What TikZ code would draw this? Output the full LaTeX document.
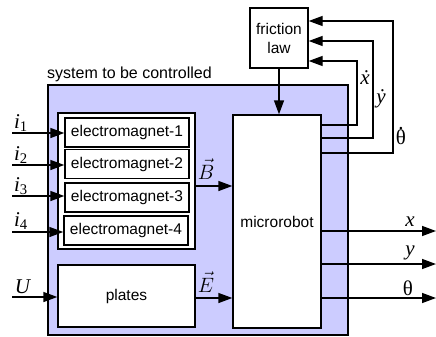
\documentclass[tikz,border=0pt]{standalone}
\usepackage{fontspec}
\setmainfont{Liberation Sans}
\newfontfamily\serifletters{Liberation Serif}
\usetikzlibrary{arrows.meta}
\definecolor{sysblue}{RGB}{204,204,255}
\newcommand{\dotover}[1]{\ooalign{#1\cr\hidewidth\raisebox{0.72em}{.}\hidewidth\cr}}
\tikzset{
	block/.style = {draw, line width=1.4pt, fill=white, inner sep=0pt, align=center, font=\fontsize{15.5}{19}\selectfont},
	sig/.style = {line width=1.4pt, -{Triangle[length=14pt, width=10pt]}},
	lbl/.style = {inner sep=0pt, font=\fontsize{21}{24}\selectfont\serifletters}
}

\begin{document}
\begin{tikzpicture}[x=1pt, y=-1pt]
		\useasboundingbox (0,0) rectangle (436,337);
		\node[block, fill=sysblue, minimum width=300pt, minimum height=250pt] (system) at (198,210) {};
		\node[anchor=south west, inner sep=0pt, font=\fontsize{16}{19}\selectfont] (systitle) at (47,82) {system to be controlled};
		\node[block, minimum width=137pt, minimum height=136pt] (magnets) at (126.5,181) {};
		\node[block, minimum width=124pt, minimum height=29pt] (em1) at (127,132.5) {electromagnet-1};
		\node[block, minimum width=124pt, minimum height=29pt] (em2) at (127,164) {electromagnet-2};
		\node[block, minimum width=124pt, minimum height=29pt] (em3) at (127,197.5) {electromagnet-3};
		\node[block, minimum width=124pt, minimum height=29pt] (em4) at (126,230.5) {electromagnet-4};
		\node[block, minimum width=137pt, minimum height=62pt] (plates) at (126.5,296) {plates};
		\node[block, minimum width=88pt, minimum height=213pt] (robot) at (277,221.5) {microrobot};
		\node[block, minimum width=58pt, minimum height=60pt] (friction) at (279,38) {friction\\law};
		\coordinate (in1) at (12,133);
		\coordinate (in2) at (12,165);
		\coordinate (in3) at (12,196);
		\coordinate (in4) at (12,232);
		\coordinate (inU) at (12,297);
		\draw[sig] (in1) -- (in1 -| em1.west);
		\draw[sig] (in2) -- (in2 -| em2.west);
		\draw[sig] (in3) -- (in3 -| em3.west);
		\draw[sig] (in4) -- (in4 -| em4.west);
		\draw[sig] (inU) -- (inU -| plates.west);
		\node[lbl] at (21,123) {\textit{i}\textsubscript{1}};
		\node[lbl] at (21,155) {\textit{i}\textsubscript{2}};
		\node[lbl] at (21,186) {\textit{i}\textsubscript{3}};
		\node[lbl] at (21,221) {\textit{i}\textsubscript{4}};
		\node[lbl] at (23,287) {\textit{U}};
		\draw[sig] ([yshift=-5pt]magnets.east) -- ([yshift=-5pt]magnets.east -| robot.west);
		\draw[sig] ([yshift=-2pt]plates.east) -- ([yshift=-2pt]plates.east -| robot.west);
		\node[lbl] at (206,169) {$\vec{B}$};
		\node[lbl] at (206,282) {$\vec{E}$};
		\draw[sig] (friction.south) -- (friction.south |- robot.north);
		\coordinate (outx) at (436,231);
		\coordinate (outy) at (436,264);
		\coordinate (outt) at (436,298);
		\draw[sig] (outx -| robot.east) -- (outx);
		\draw[sig] (outy -| robot.east) -- (outy);
		\draw[sig] (outt -| robot.east) -- (outt);
		\node[lbl] at (410,222) {\textit{x}};
		\node[lbl] at (410,253) {\textit{y}};
		\node[lbl] at (408,288) {θ};
		\coordinate (fx1) at (357,125);
		\coordinate (fx2) at (357,61);
		\coordinate (fy1) at (373,138);
		\coordinate (fy2) at (373,41);
		\coordinate (ft1) at (393,153);
		\coordinate (ft2) at (393,21);
		\draw[sig] (fx1 -| robot.east) -- (fx1) -- (fx2) -- (fx2 -| friction.east);
		\draw[sig] (fy1 -| robot.east) -- (fy1) -- (fy2) -- (fy2 -| friction.east);
		\draw[sig] (ft1 -| robot.east) -- (ft1) -- (ft2) -- (ft2 -| friction.east);
		\node[lbl] at (365,78) {\textit{\.{x}}};
		\node[lbl] at (381,99) {\textit{\.{y}}};
		\node[lbl] at (401,137) {\dotover{θ}};
	\end{tikzpicture}
\end{document}
